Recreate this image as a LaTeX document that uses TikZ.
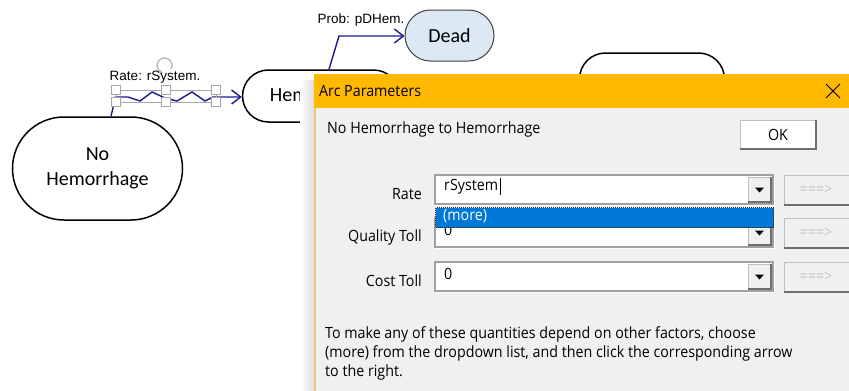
\documentclass[tikz,border=0pt]{standalone}
\usepackage{fontspec}
\setmainfont{Carlito}
\newfontfamily\uifont[FakeStretch=0.92]{Open Sans}
\newfontfamily\arialfont{Liberation Sans}
\usetikzlibrary{shapes.misc,arrows.meta,calc}
\definecolor{navy}{HTML}{1A1A8C}
\definecolor{deadblue}{HTML}{DDE8F5}
\definecolor{titlebar}{HTML}{FFB900}
\definecolor{dlgbody}{HTML}{F0F0F0}
\definecolor{dlgborder}{HTML}{F0C878}
\definecolor{selblue}{HTML}{0078D7}
\definecolor{darkedge}{HTML}{6E6E6E}
\definecolor{sunken}{HTML}{A0A0A0}
\begin{document}
\begin{tikzpicture}[x=1pt,y=-1pt,
  state/.style={rounded rectangle, draw=black, line width=1.5pt, fill=white,
    align=center, inner sep=0pt, font=\fontsize{20}{25}\selectfont},
  arcline/.style={draw=navy, line width=1.4pt,
    -{Straight Barb[length=9pt,width=14pt,line width=1.4pt]}},
  lbl/.style={font=\arialfont\fontsize{13.5}{16}\selectfont, inner sep=0pt},
  ui/.style={font=\uifont\fontsize{15.5}{19}\selectfont, inner sep=0pt},
  handle/.style={draw=black!35, fill=white, minimum size=9pt, inner sep=0pt, line width=0.8pt},
  raised/.style={fill=#1, draw=black!25, line width=0.8pt, inner sep=0pt, outer sep=0pt},
  combo/.style={fill=white, draw=sunken, line width=1.8pt, inner sep=0pt, outer sep=0pt},
]
\useasboundingbox (0,0) rectangle (849,391);
\fill[white] (0,0) rectangle (849,391);

% ---- state nodes ----
\node[state, minimum width=170pt, minimum height=103pt] (nh) at (97.5,168.5) {No\\Hemorrhage};
\node[state, minimum width=157pt, minimum height=52pt] (hem) at (321,96) {Hemorrhage};
\node[state, fill=deadblue, draw=black!75, line width=1pt, minimum width=89pt, minimum height=51pt] (dead) at (449.5,35.5) {Dead};
\node[state, minimum width=145pt, minimum height=52pt] (other) at (652,79) {};

% ---- arcs ----
\coordinate (a0) at ($(nh.north)+(13.5,0)$);
\coordinate (a1) at (115.5,97);
\coordinate (z1) at (213,97);
\draw[arcline] (a0) -- (a1) -- (128,97) -- (140,101) -- (152,92) -- (165,98) -- (177,101)
   -- (192,92) -- (205,101) -- (z1) -- (z1 -| hem.west);
\coordinate (b0) at ($(hem.north)+(8,0)$);
\coordinate (b1) at (339,36);
\draw[arcline] (b0) -- (b1) -- (b1 -| dead.west);

% ---- selection handles ----
\draw[black!35, line width=0.8pt] (116,90) rectangle (216,102);
\foreach \hx/\hy [count=\i] in {116/90,166/90,216/90,116/102,166/102,216/102}
  \node[handle] (h\i) at (\hx,\hy) {};
\draw[black!28, line width=1.4pt, -{Stealth[length=4pt,width=5pt]}]
  ($(164.5,65.5)+(30:7.5)$) arc[start angle=30, end angle=-260, radius=7.5];

% ---- labels ----
\node[lbl] (lrate) at (155,77) {Rate: rSystem.};
\node[lbl] (lprob) at (361,20) {Prob: pDHem.};
\node[lbl, anchor=west] (lhid) at (308,173) {P};

% ---- dialog ----
\shade[left color=white, right color=black!13] (300,80) rectangle (314,391);
\fill[titlebar] (314,74) rectangle (849,108);
\fill[dlgbody] (314,108) rectangle (849,391);
\draw[dlgborder, line width=1.5pt] (314.75,108) -- (314.75,391);
\node[ui, anchor=west] (title) at (319,91.5) {Arc Parameters};
\draw[black, line width=0.9pt] (826,84) -- (840,98) (826,98) -- (840,84);
\node[ui, anchor=west] (sub) at (327,129) {No Hemorrhage to Hemorrhage};

% OK button
\node[raised=white, minimum width=76pt, minimum height=29pt] (ok) at (778,134.5) {};
\draw[darkedge, line width=2pt] (ok.north east) -- (ok.south east) -- (ok.south west);
\node[ui] (oktext) at (778,134.5) {OK};

% combo rows
\foreach \nm/\y/\lab/\val in {rate/175/Rate/rSystem, qual/218/Quality Toll/0, cost/262/Cost Toll/0}{
  \node[combo, anchor=north west, minimum width=338pt, minimum height=29pt] (c\nm) at (435,\y) {};
  \draw[white, line width=1.5pt] ($(c\nm.north east)+(1.5,0)$) -- ($(c\nm.south east)+(1.5,1.5)$) -- ($(c\nm.south west)+(0,1.5)$);
  \node[raised=dlgbody, anchor=north east, minimum width=23pt, minimum height=25pt] (d\nm) at ($(c\nm.north east)+(-2,2)$) {};
  \draw[darkedge, line width=1.3pt] (d\nm.north east) -- (d\nm.south east) -- (d\nm.south west);
  \fill[black] ($(d\nm.center)+(-4.5,-2)$) -- ($(d\nm.center)+(4.5,-2)$) -- ($(d\nm.center)+(0,3)$) -- cycle;
  \node[ui, anchor=west] (v\nm) at ($(c\nm.north west)+(9,12)$) {\val};
  \node[ui, anchor=east] (l\nm) at (422,\y+19) {\lab};
  \node[raised=dlgbody, anchor=north west, minimum width=70pt, minimum height=30pt] (g\nm) at (784,\y) {};
  \draw[darkedge, line width=1.5pt] (g\nm.south west) -- (g\nm.south east);
  \node[ui, text=black!22] (gt\nm) at (816,\y+15) {===>};
}
% text cursor
\draw[black, line width=1pt] ($(vrate.east)+(2,-9)$) -- ($(vrate.east)+(2,8)$);

% dropdown list
\node[fill=selblue, draw=black!70!brown, densely dotted, line width=1pt, inner sep=0pt,
  anchor=north west, minimum width=338pt, minimum height=20pt] (list) at (435,207) {};
\node[ui, text=white, anchor=west] (more) at (443,216.5) {(more)};

% help text
\node[ui, anchor=north west, align=left] (help) at (325,326)
  {To make any of these quantities depend on other factors, choose\\
   (more) from the dropdown list, and then click the corresponding arrow\\
   to the right.};
\end{tikzpicture}
\end{document}
